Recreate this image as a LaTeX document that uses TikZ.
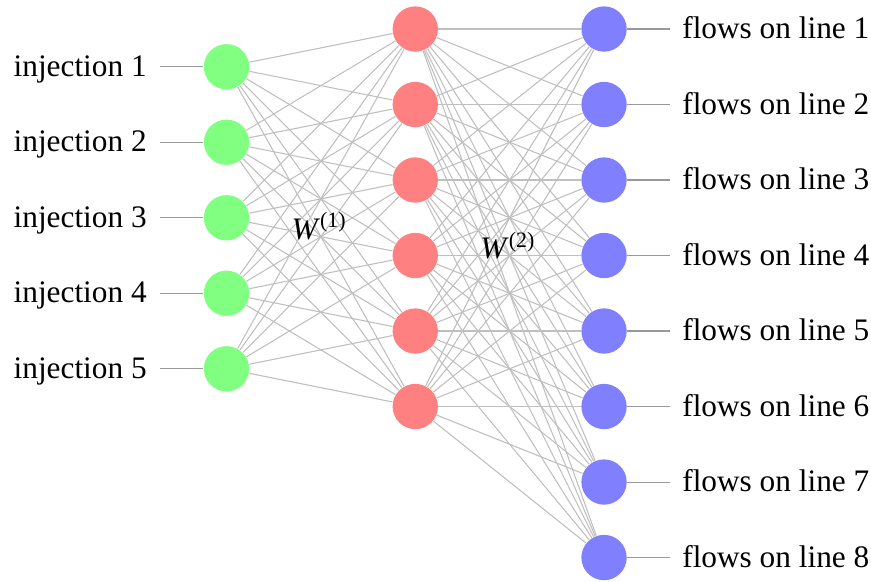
\documentclass[tikz,border=0pt]{standalone}
\usepackage{fontspec}
\setmainfont{Liberation Serif}
\usetikzlibrary{positioning}
\definecolor{inputgreen}{RGB}{128,255,128}
\definecolor{hiddenred}{RGB}{255,128,128}
\definecolor{outputblue}{RGB}{128,128,255}

\begin{document}
\begin{tikzpicture}[
    neuron/.style={circle, minimum size=0.6cm, inner sep=0pt},
    weight/.style={draw=black!25, line width=0.4pt},
    io/.style={draw=black!40, line width=0.4pt},
    label/.style={font=\fontsize{11.8}{14}\selectfont, inner sep=0pt, yshift=-3.6pt}
  ]
  \useasboundingbox (0,0.384) rectangle (11.536,-7.311);

  % input layer
  \foreach \i in {1,...,5} {
    \node[neuron, fill=inputgreen] (in-\i) at (3,-\i+0.5) {};
    \coordinate (tap-\i) at (2.12,-\i+0.5);
    \node[label, anchor=base east] (inlab-\i) at (1.95,-\i+0.5) {injection \i};
    \draw[io] (tap-\i) -- (in-\i);
  }

  % hidden layer
  \foreach \j in {1,...,6}
    \node[neuron, fill=hiddenred] (hid-\j) at (5.5,-\j+1) {};

  % output layer
  \foreach \k in {1,...,8} {
    \node[neuron, fill=outputblue] (out-\k) at (8,-\k+1) {};
    \coordinate (end-\k) at (8.87,-\k+1);
    \node[label, anchor=base west] (outlab-\k) at (9.03,-\k+1) {flows on line \k};
    \draw[io] (out-\k) -- (end-\k);
  }

  % weights
  \foreach \i in {1,...,5}
    \foreach \j in {1,...,6}
      \draw[weight] (in-\i) -- (hid-\j);
  \foreach \j in {1,...,6}
    \foreach \k in {1,...,8}
      \draw[weight] (hid-\j) -- (out-\k);

  \node[font=\fontsize{11.8}{14}\selectfont, inner sep=0pt] (w1) at (4.23,-2.61) {\textit{W}\textsuperscript{(1)}};
  \node[font=\fontsize{11.8}{14}\selectfont, inner sep=0pt] (w2) at (6.73,-2.87) {\textit{W}\textsuperscript{(2)}};
\end{tikzpicture}
\end{document}
